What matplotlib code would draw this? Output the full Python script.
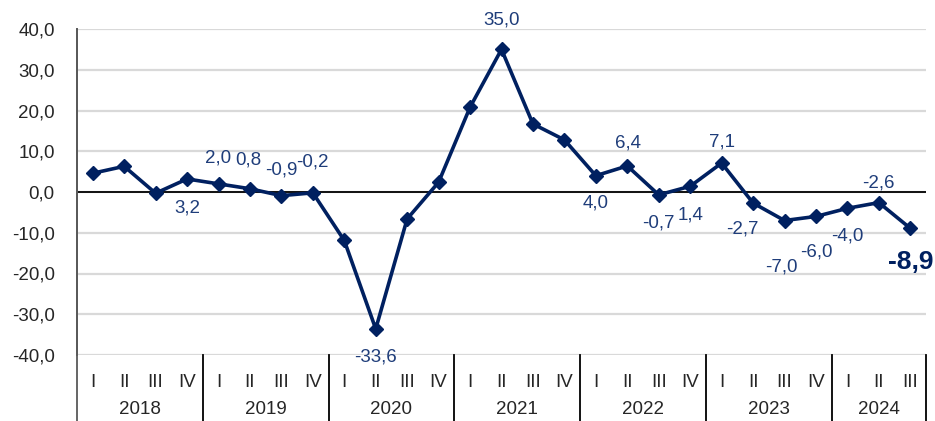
import numpy as np
import matplotlib
matplotlib.use("Agg")
import matplotlib.pyplot as plt
import matplotlib.transforms as mtransforms

plt.rcParams['font.family'] = ['Liberation Sans', 'DejaVu Sans']

# ---- data ----
years = ['2018', '2019', '2020', '2021', '2022', '2023', '2024']
quarters_per_year = [4, 4, 4, 4, 4, 4, 3]
quarter_names = ['I', 'II', 'III', 'IV']
values = [4.6, 6.3, -0.3, 3.2,
          2.0, 0.8, -0.9, -0.2,
          -11.9, -33.6, -6.6, 2.4,
          20.8, 35.0, 16.7, 12.8,
          4.0, 6.4, -0.7, 1.4,
          7.1, -2.7, -7.0, -6.0,
          -4.0, -2.6, -8.9]
# indices of points that carry a value label
labelled = [3, 4, 5, 6, 7, 9, 13, 16, 17, 18, 19, 20, 21, 22, 23, 24, 25, 26]

# label offsets in pixels (dx, dy), matching the hand-placed labels
label_offsets = {3: (0, -29), 4: (0, 26), 5: (-2, 29), 6: (0, 26), 7: (0, 31),
                 9: (0, -28), 13: (0, 29), 16: (0, -27), 17: (1, 23),
                 18: (0, -28), 19: (0, -29), 20: (0, 21), 21: (-11, -26),
                 22: (-3, -46), 23: (0, -36), 24: (0, -28), 25: (0, 20),
                 26: (0, -34)}

quarter_labels = []
for n in quarters_per_year:
    quarter_labels += quarter_names[:n]
x = np.arange(len(values))

navy = '#002060'
label_col = '#1F3D7A'
fs = 13.5

fig = plt.figure(figsize=(9.35, 4.21), dpi=100)
ax = fig.add_axes([77 / 935, 1 - 355 / 421, 849 / 935, 326 / 421])

ax.set_ylim(-40, 40)
ax.set_xlim(-0.5, len(values) - 0.5)
ax.set_yticks(np.arange(-40, 41, 10))
ax.set_yticklabels([f'{v:.1f}'.replace('.', ',') for v in np.arange(-40, 41, 10)])
ax.grid(axis='y', color='#d9d9d9', linewidth=1.6)
ax.set_axisbelow(True)
ax.axhline(0, color='black', linewidth=1.3, zorder=2)

for s in ['top', 'right', 'bottom']:
    ax.spines[s].set_visible(False)
ax.spines['left'].set_color('#595959')
ax.spines['left'].set_linewidth(1.3)

ax.tick_params(axis='y', length=0, pad=16, labelsize=fs, labelcolor='#262626')
ax.set_xticks(x)
ax.set_xticklabels(quarter_labels)
ax.tick_params(axis='x', length=0, pad=14, labelsize=fs, labelcolor='#262626')

ax.plot(x, values, color=navy, linewidth=2.6, marker='D', markersize=7,
        zorder=3, clip_on=False)

for i in labelled:
    dx, dy = label_offsets[i]
    txt = f'{values[i]:.1f}'.replace('.', ',')
    if i == len(values) - 1:
        ax.annotate(txt, (x[i], values[i]), xytext=(dx, dy),
                    textcoords='offset pixels', ha='center', va='center',
                    fontsize=19, fontweight='bold', color=navy)
    else:
        ax.annotate(txt, (x[i], values[i]), xytext=(dx, dy),
                    textcoords='offset pixels', ha='center', va='center',
                    fontsize=fs, color=label_col)

# year separators and year labels below the axis
trans = mtransforms.blended_transform_factory(ax.transData, ax.transAxes)
bottom = -(421 - 355) / 326
ax.plot([-0.5, -0.5], [1, bottom], transform=trans, color='#595959',
        linewidth=1.3, clip_on=False)
start = 0
for year, n in zip(years, quarters_per_year):
    end = start + n
    ax.plot([end - 0.5, end - 0.5], [0, bottom], transform=trans,
            color='black', linewidth=1.3, clip_on=False)
    ax.text((start + end - 1) / 2, -(410 - 355) / 326, year, transform=trans,
            ha='center', va='center', fontsize=fs, color='#262626')
    start = end

fig.savefig('out.png', dpi=100)
